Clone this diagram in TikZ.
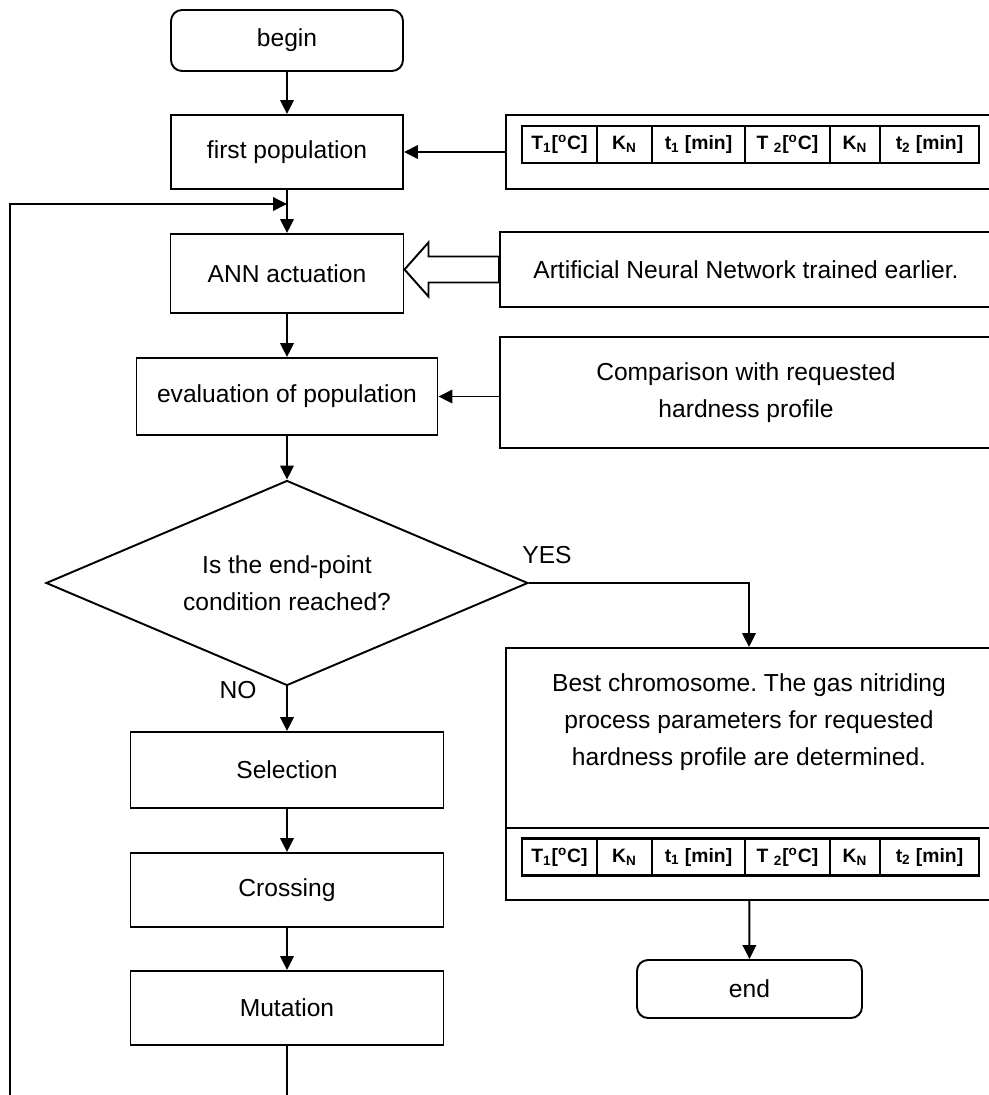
\documentclass[tikz,border=0pt]{standalone}
\usepackage{fontspec}
\setmainfont{Liberation Sans}
\usepackage{tikz}
\usetikzlibrary{arrows.meta,positioning,shapes.geometric}
\frenchspacing

\begin{document}
\begin{tikzpicture}[
    line width=1.1pt,
    term/.style={draw, rectangle, rounded corners=0.22cm, align=center,
                 font=\fontsize{14}{21}\selectfont},
    box/.style={draw, rectangle, minimum width=6.26cm, minimum height=1.48cm,
                align=center, font=\fontsize{14}{21}\selectfont},
    inbox/.style={draw, rectangle, minimum width=9.84cm, align=center,
                  font=\fontsize{14}{21}\selectfont},
    decision/.style={draw, diamond, aspect=2.35, inner sep=0pt, minimum width=9.64cm,
                     minimum height=4.1cm, align=center, font=\fontsize{14}{21}\selectfont},
    cell/.style={draw, rectangle, line width=1.4pt, outer sep=0pt, inner sep=0pt,
                 minimum height=0.74cm, font=\fontsize{11}{13}\selectfont\bfseries},
    label/.style={font=\fontsize{14}{17}\selectfont},
    arrow/.style={-{Triangle[length=0.28cm, width=0.27cm]}}
]
    \useasboundingbox (0,0) rectangle (19.78,-21.9);

    % Left column: main loop
    \node[term, minimum width=4.64cm, minimum height=1.22cm] (start) at (5.74,-0.81) {begin};
    \node[box, minimum width=4.64cm] (first) at (5.74,-3.04) {first population};
    \node[box, minimum width=4.66cm, minimum height=1.58cm] (ann) at (5.74,-5.47) {ANN actuation};
    \node[box, minimum width=6.02cm, minimum height=1.54cm] (eval) at (5.74,-7.93) {evaluation of population};
    \node[decision] (dec) at (5.74,-11.66) {Is the end-point\\condition reached?};
    \node[box, minimum height=1.52cm] (sel) at (5.74,-15.4) {Selection};
    \node[box] (cross) at (5.74,-17.8) {Crossing};
    \node[box] (mut) at (5.74,-20.16) {Mutation};

    \node[label] (yes) at (10.94,-11.1) {YES};
    \node[label] (no) at (4.76,-13.8) {NO};

    % Right column: inputs
    \node[inbox, minimum width=9.72cm, minimum height=1.48cm] (par1) at (14.98,-3.04) {};
    \node[inbox, minimum height=1.5cm] (annet) at (14.92,-5.39) {Artificial Neural Network trained earlier.};
    \node[inbox, minimum height=2.22cm] (cmp) at (14.92,-7.85) {Comparison with requested\\hardness profile};

    % Parameter table of the first population
    \node[cell, minimum width=1.5cm, anchor=west] (pa1) at (10.44,-2.89) {T\textsubscript{1}[\textsuperscript{o}C]};
    \node[cell, minimum width=1.1cm, right=0pt of pa1] (pa2) {K\textsubscript{N}};
    \node[cell, minimum width=1.86cm, right=0pt of pa2] (pa3) {t\textsubscript{1} [min]};
    \node[cell, minimum width=1.7cm, right=0pt of pa3] (pa4) {T \textsubscript{2}[\textsuperscript{o}C]};
    \node[cell, minimum width=1.0cm, right=0pt of pa4] (pa5) {K\textsubscript{N}};
    \node[cell, minimum width=1.98cm, right=0pt of pa5] (pa6) {t\textsubscript{2} [min]};

    % Result
    \node[inbox, minimum width=9.72cm, minimum height=5.04cm] (best) at (14.98,-15.48) {};
    \node[align=center, font=\fontsize{14}{21}\selectfont] (besttxt) at (14.98,-14.44)
        {Best chromosome. The gas nitriding\\process parameters for requested\\hardness profile are determined.};
    \draw ([yshift=1.46cm]best.south west) -- ([yshift=1.46cm]best.south east);

    \node[cell, minimum width=1.5cm, anchor=west] (pb1) at (10.44,-17.14) {T\textsubscript{1}[\textsuperscript{o}C]};
    \node[cell, minimum width=1.1cm, right=0pt of pb1] (pb2) {K\textsubscript{N}};
    \node[cell, minimum width=1.86cm, right=0pt of pb2] (pb3) {t\textsubscript{1} [min]};
    \node[cell, minimum width=1.7cm, right=0pt of pb3] (pb4) {T \textsubscript{2}[\textsuperscript{o}C]};
    \node[cell, minimum width=1.0cm, right=0pt of pb4] (pb5) {K\textsubscript{N}};
    \node[cell, minimum width=1.98cm, right=0pt of pb5] (pb6) {t\textsubscript{2} [min]};

    \node[term, minimum width=4.5cm, minimum height=1.16cm] (stop) at (14.99,-19.78) {end};

    % Arrows
    \draw[arrow] (start) -- (first);
    \draw[arrow] (first) -- (ann);
    \draw[arrow] (ann) -- (eval);
    \draw[arrow] (eval) -- (dec);
    \draw[arrow] (dec) -- (sel);
    \draw[arrow] (sel) -- (cross);
    \draw[arrow] (cross) -- (mut);

    \draw[arrow] (par1) -- (first);
    \draw[arrow] (cmp.west |- eval) -- (eval);
    \draw[arrow] (dec.east) -| (best.north);
    \draw[arrow] (best) -- (stop);

    % Hollow arrow from the network
    \coordinate (annTip) at (ann.east |- annet.west);
    \draw[fill=white] (annTip) -- ++(0.48,0.54) -- ++(0,-0.28) -- ([yshift=0.26cm]annet.west)
        -- ([yshift=-0.26cm]annet.west) -- ([xshift=0.48cm,yshift=-0.26cm]annTip)
        -- ([xshift=0.48cm,yshift=-0.54cm]annTip) -- cycle;

    % Feedback loop
    \coordinate (loopIn) at (5.74,-4.08);
    \coordinate (loopOut) at (0.2,-22.1);
    \draw (mut) -- (mut |- loopOut);
    \draw[arrow] (loopOut) |- (loopIn);
\end{tikzpicture}
\end{document}
